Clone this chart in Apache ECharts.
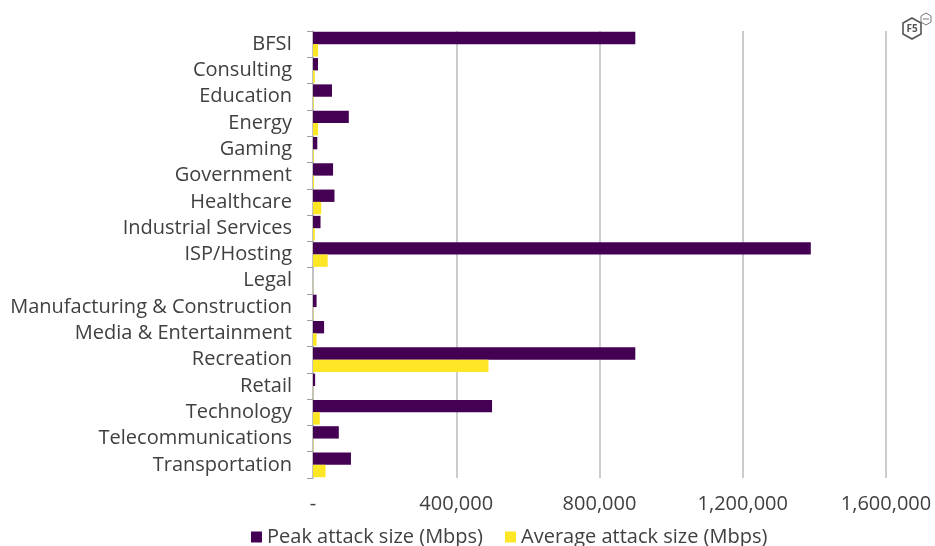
<!DOCTYPE html>
<html><head><meta charset="utf-8">
<script src="https://cdn.jsdelivr.net/npm/echarts@6/dist/echarts.min.js"></script>
<style>html,body{margin:0;padding:0;background:#fff}#c{width:935px;height:546px}</style>
</head><body><div id="c"></div>
<script>
const categories = ["BFSI","Consulting","Education","Energy","Gaming","Government","Healthcare","Industrial Services","ISP/Hosting","Legal","Manufacturing & Construction","Media & Entertainment","Recreation","Retail","Technology","Telecommunications","Transportation"];
const peakAttack = [900000,14000,53000,100000,12000,56000,60000,21000,1390000,0,10000,31000,900000,6000,500000,72000,106000];
const avgAttack = [14000,5000,2000,14000,2000,3000,23000,5000,41000,500,1000,10000,490000,500,19000,1000,35000];
const xTicks = [0,400000,800000,1200000,1600000];

const chart = echarts.init(document.getElementById('c'));
const font = "'Open Sans', sans-serif";
chart.setOption({
  animation:false,
  grid:{left:313,right:49,top:31,bottom:68,containLabel:false},
  legend:{bottom:-6,left:246,itemWidth:11,itemHeight:11,itemGap:22,icon:'rect',
    textStyle:{fontFamily:font,fontSize:20,color:'#404040'},
    data:['Peak attack size (Mbps)','Average attack size (Mbps)']},
  xAxis:{type:'value',min:xTicks[0],max:xTicks[xTicks.length-1],interval:400000,
    axisLine:{show:false},axisTick:{show:false},
    splitLine:{show:true,lineStyle:{color:'#cccccc',width:2}},
    axisLabel:{fontFamily:font,fontSize:20,color:'#404040',margin:16,
      formatter:v=>v===0?'-':v.toLocaleString('en-US')}},
  yAxis:{type:'category',data:categories,inverse:true,
    axisLine:{show:true,lineStyle:{color:'#bfbfbf',width:1.5}},
    axisTick:{show:true,length:6,lineStyle:{color:'#a0a0a0'}},
    axisLabel:{fontFamily:font,fontSize:20,color:'#404040',margin:21}},
  series:[
    {name:'Peak attack size (Mbps)',type:'bar',data:peakAttack,itemStyle:{color:'#440154'},barGap:'0%',barCategoryGap:'6%'},
    {name:'Average attack size (Mbps)',type:'bar',data:avgAttack,itemStyle:{color:'#FDE725'},barGap:'0%',barCategoryGap:'6%'}
  ],
  graphic:[
    {type:'polygon',shape:{points:[[912,18],[921,23],[921,34],[912,39],[903,34],[903,23]]},style:{fill:'none',stroke:'#555',lineWidth:1.6}},
    {type:'text',x:912,y:29,style:{text:'F5',fontFamily:font,fontWeight:'bold',fontSize:10,fill:'#555',align:'center',verticalAlign:'middle'}},
    {type:'polygon',shape:{points:[[926,13],[931,16],[931,22],[926,25],[921,22],[921,16]]},style:{fill:'#fff',stroke:'#777',lineWidth:1}},
    {type:'line',shape:{x1:923,y1:19,x2:929,y2:19},style:{stroke:'#777',lineWidth:1}}
  ]
});
</script></body></html>
